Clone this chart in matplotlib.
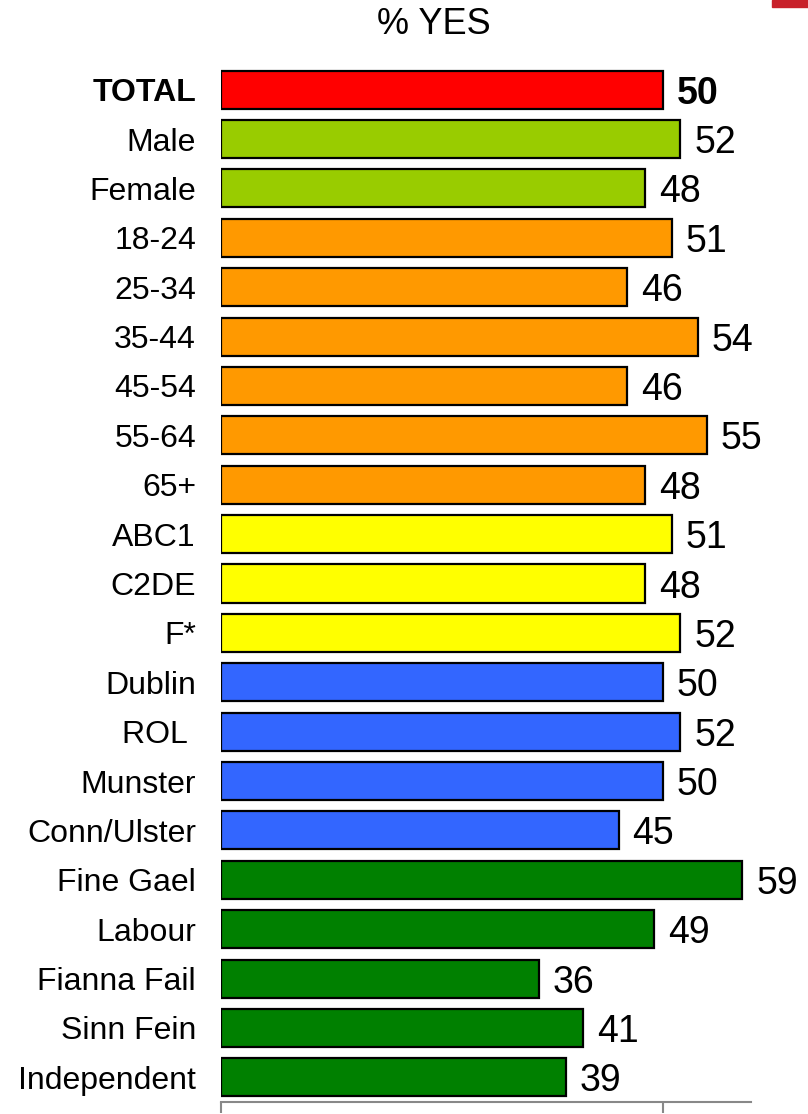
import matplotlib
matplotlib.use("Agg")
import matplotlib.pyplot as plt
from matplotlib.patches import Rectangle

plt.rcParams['font.family'] = ['Liberation Sans', 'DejaVu Sans']

categories = ["TOTAL", "Male", "Female", "18-24", "25-34", "35-44", "45-54", "55-64", "65+",
              "ABC1", "C2DE", "F*", "Dublin", "ROL ", "Munster", "Conn/Ulster",
              "Fine Gael", "Labour", "Fianna Fail", "Sinn Fein", "Independent"]
values = [50, 52, 48, 51, 46, 54, 46, 55, 48, 51, 48, 52, 50, 52, 50, 45, 59, 49, 36, 41, 39]
group_sizes = [1, 2, 6, 3, 4, 5]
group_colors = ["#FF0000", "#99CC00", "#FF9900", "#FFFF00", "#3366FF", "#008000"]
title = "% YES"

colors = []
for n, c in zip(group_sizes, group_colors):
    colors += [c] * n

W, H = 808, 1114
fig = plt.figure(figsize=(W / 100, H / 100), dpi=100)
ax = fig.add_axes([221 / W, 1 - 1102 / H, (751 - 221) / W, (1102 - 65) / H])

y = list(range(len(categories)))
ax.barh(y, values, height=0.77, color=colors, edgecolor="black", linewidth=1.6, zorder=3)
ax.set_xlim(0, 60)
ax.set_ylim(len(categories) - 0.5, -0.5)

ax.set_yticks(y)
ax.set_yticklabels(categories, fontsize=23)
for lbl in ax.get_yticklabels():
    if lbl.get_text() == "TOTAL":
        lbl.set_fontweight("bold")
ax.tick_params(axis="y", length=0, pad=18)
ax.set_xticks([0, 50])
ax.set_xticklabels([])
ax.tick_params(axis="x", direction="out", length=8, width=1.5, color="#888888")

for s in ["top", "right", "left"]:
    ax.spines[s].set_visible(False)
ax.spines["bottom"].set_color("#888888")
ax.spines["bottom"].set_linewidth(1.5)

for i, v in enumerate(values):
    ax.annotate(str(v), (v, i), xytext=(10, 0), textcoords="offset points",
                va="center_baseline", ha="left", fontsize=27,
                fontweight="bold" if i == 0 else "normal")

fig.text(434 / W, 1 - 25 / H, title, ha="center", va="center", fontsize=26)
fig.patches.append(Rectangle((772 / W, 1 - 7 / H), 36 / W, 7 / H,
                             transform=fig.transFigure, color="#C8202A"))

fig.savefig("out.png", dpi=100)
